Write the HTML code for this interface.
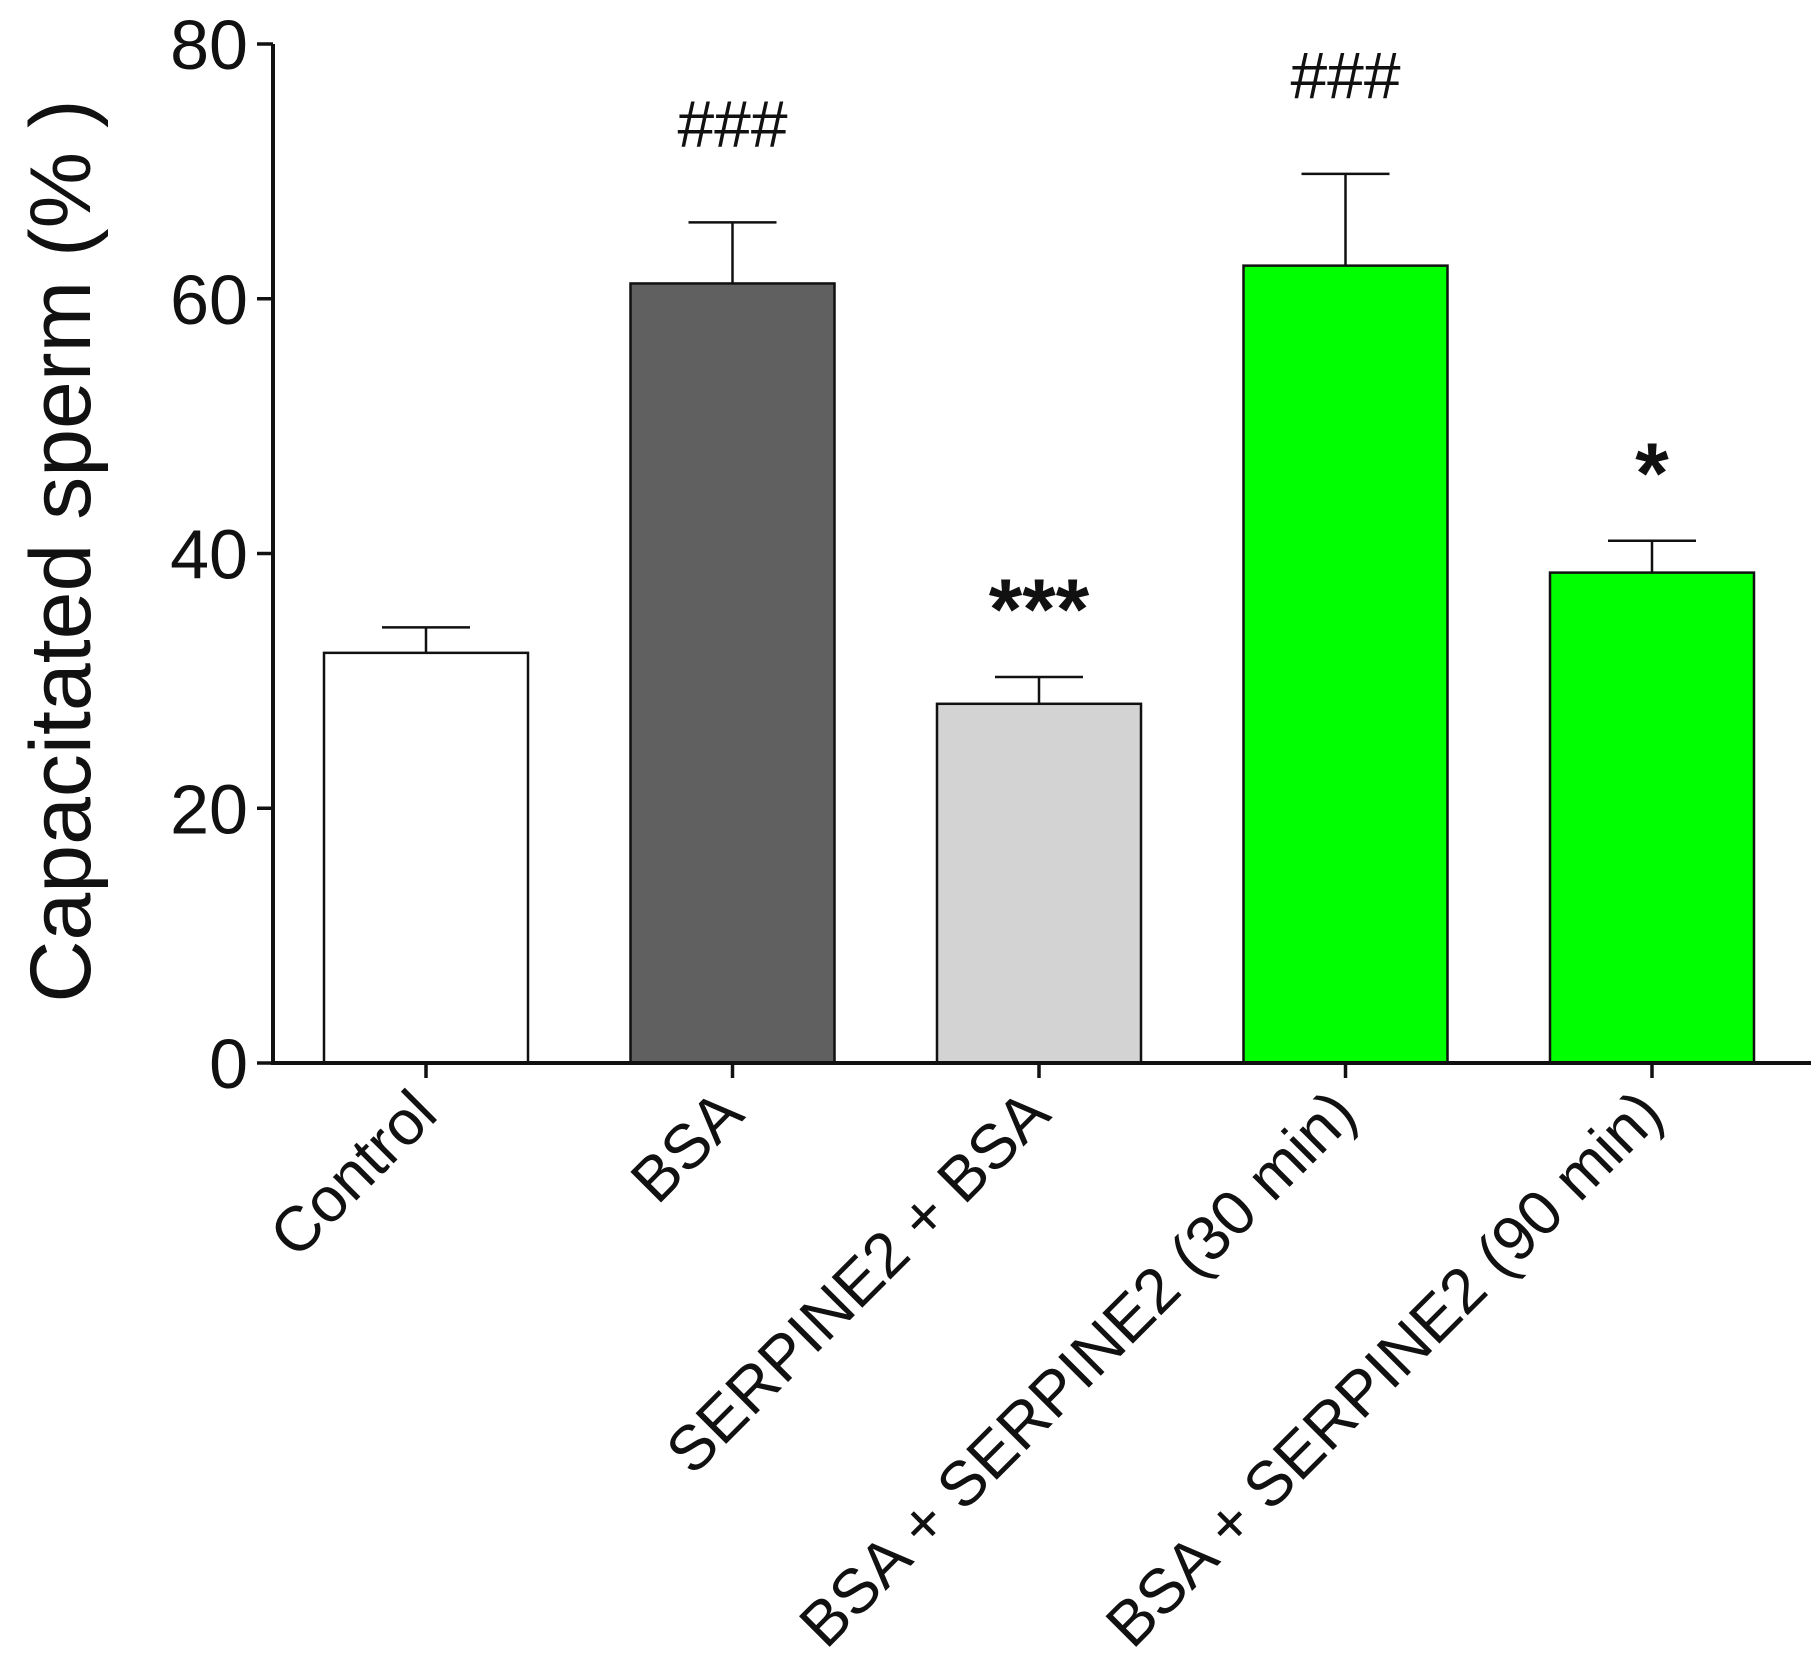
<!DOCTYPE html>
<html><head><meta charset="utf-8"><style>
html,body{margin:0;padding:0;background:#fff;}
svg{display:block;font-family:"Liberation Sans",Arial,sans-serif;}
</style></head><body>
<svg id="chart" width="1820" height="1677" viewBox="0 0 1820 1677" xmlns="http://www.w3.org/2000/svg">
<g id="plot"></g>
</svg>
<script>
const categories = ["Control","BSA","SERPINE2 + BSA","BSA + SERPINE2 (30 min)","BSA + SERPINE2 (90 min)"];
const means = [32.2, 61.2, 28.2, 62.6, 38.5];
const errors = [2.0, 4.8, 2.1, 7.2, 2.5];
const annotations = ["", "###", "***", "###", "*"];
const fills = ["#ffffff","#606060","#d3d3d3","#00ff00","#00ff00"];
const yTicks = [0,20,40,60,80];

const NS="http://www.w3.org/2000/svg";
const g=document.getElementById('plot');
const x0=273, y0=1063, yTop=44, xEnd=1811;
const y=v=>y0-(v/80)*(y0-yTop);
const step=306.5, barW=204, firstC=426;
const xc=i=>firstC+i*step;
function el(t,a,p){const e=document.createElementNS(NS,t);for(const k in a)e.setAttribute(k,a[k]);(p||g).appendChild(e);return e;}

categories.forEach((c,i)=>{
  const r=el('rect',{x:xc(i)-barW/2,y:y(means[i]),width:barW,height:y0-y(means[i]),fill:fills[i],stroke:'#111','stroke-width':2.5});
  
  
  const eb=el('path',{d:`M${xc(i)} ${y(means[i])}V${y(means[i]+errors[i])}M${xc(i)-44} ${y(means[i]+errors[i])}H${xc(i)+44}`,stroke:'#111','stroke-width':2.5,fill:'none'});
  
  
  if(annotations[i]){
    const star=annotations[i].includes('*');
    const t=el('text',{x:xc(i),y:y(means[i]+errors[i])-(star?38:76),'text-anchor':'middle','font-size':star?86:66,'font-weight':star?'bold':'normal',fill:'#111'});
    t.textContent=annotations[i];
    
    
  }
  const tk=el('line',{x1:xc(i),x2:xc(i),y1:y0,y2:y0+15,stroke:'#111','stroke-width':3.5});
  
  
  const lx=xc(i)+14, ly=y0+54;
  const lt=el('text',{x:lx,y:ly,'text-anchor':'end','font-size':63,fill:'#111',transform:`rotate(-45 ${lx} ${ly})`});
  lt.textContent=categories[i];
  
  
});

const ax=el('path',{d:`M${x0} ${yTop}V${y0}H${xEnd}`,stroke:'#111','stroke-width':4,fill:'none'});


yTicks.forEach(v=>{
  const t=el('line',{x1:x0-16,x2:x0,y1:y(v),y2:y(v),stroke:'#111','stroke-width':3.5});
  
  
  const l=el('text',{x:x0-25,y:y(v)+25,'text-anchor':'end','font-size':70,fill:'#111'});
  l.textContent=v;
  
  
});
const yt=el('text',{x:90,y:551,'text-anchor':'middle','font-size':86,fill:'#111',transform:'rotate(-90 90 551)'});
yt.textContent='Capacitated sperm (% )';


</script>
</body></html>
